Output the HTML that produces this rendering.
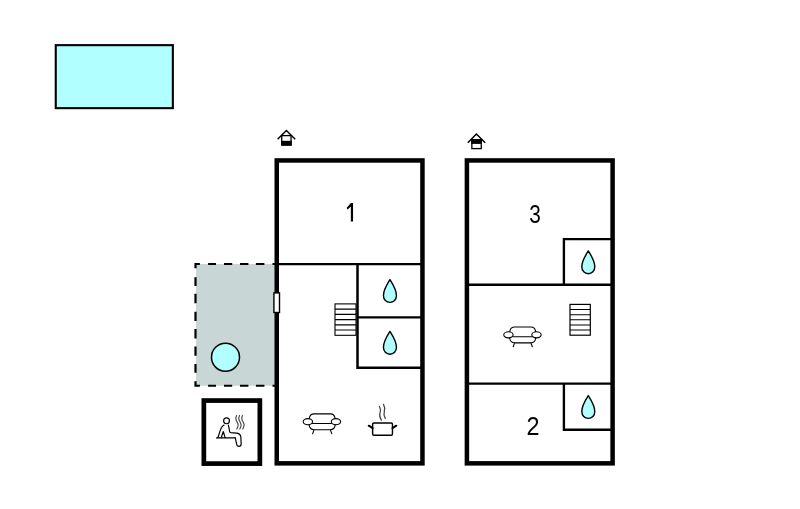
<!DOCTYPE html>
<html><head><meta charset="utf-8">
<style>
html,body{margin:0;padding:0;background:#fff;}
body{width:800px;height:509px;overflow:hidden;}
svg{display:block;will-change:transform;}
text{font-family:"Liberation Sans",sans-serif;}
</style></head>
<body>
<svg width="800" height="509" viewBox="0 0 800 509">
<defs>
<path id="drop" d="M0,0.8 C-2.4,4.6 -6.5,10.8 -6.5,16.6 C-6.5,20.8 -3.6,23.6 0,23.6 C3.6,23.6 6.5,20.8 6.5,16.6 C6.5,10.8 2.4,4.6 0,0.8 Z" fill="#b2ffff" stroke="#000" stroke-width="1.4" stroke-linejoin="round"/>
<g id="sofa" fill="none" stroke="#000" stroke-width="16" stroke-linecap="round">
<path d="M162,192 C168,150 192,125 232,125 L468,125 C508,125 532,150 538,192"/>
<ellipse cx="142" cy="238" rx="68" ry="44" fill="#fff"/>
<ellipse cx="550" cy="238" rx="68" ry="44" fill="#fff"/>
<path d="M210,265 L482,265"/>
<path d="M160,285 C165,325 195,355 235,355 L465,355 C505,355 535,325 540,285"/>
<path d="M228,365 L212,412 M472,365 L490,412"/>
</g>
</defs>
<!-- legend rect -->
<rect x="55.75" y="45.15" width="117.1" height="63" fill="#b2ffff" stroke="#000" stroke-width="2.1"/>

<!-- terrace (gray dashed) -->
<rect x="196" y="264" width="79" height="121.75" fill="#c8d6d6"/>
<path d="M194.4,263.0H199.9V265.0H194.4ZM194.4,384.75H199.9V386.75H194.4ZM208.1,263.0H216.0V265.0H208.1ZM208.1,384.75H216.0V386.75H208.1ZM224.0,263.0H232.2V265.0H224.0ZM224.0,384.75H232.2V386.75H224.0ZM240.0,263.0H248.4V265.0H240.0ZM240.0,384.75H248.4V386.75H240.0ZM255.9,263.0H264.4V265.0H255.9ZM255.9,384.75H264.4V386.75H255.9ZM272.5,263.0H275.5V265.0H272.5ZM272.5,384.75H275.5V386.75H272.5ZM194.4,263.0H196.6V268.3H194.4ZM194.4,277.2H196.6V286.0H194.4ZM194.4,293.8H196.6V303.2H194.4ZM194.4,311.8H196.6V320.9H194.4ZM194.4,329.1H196.6V338.6H194.4ZM194.4,346.6H196.6V355.8H194.4ZM194.4,364.0H196.6V372.7H194.4ZM194.4,381.3H196.6V386.75H194.4Z" fill="#000"/>
<circle cx="225.5" cy="357.2" r="14" fill="#b2ffff" stroke="#000" stroke-width="1.5"/>

<!-- building 1 -->
<g fill="none" stroke="#000">
<rect x="276.75" y="160.45" width="145.7" height="302.9" stroke-width="4.5"/>
<line x1="277" y1="264.1" x2="422" y2="264.1" stroke-width="2.35"/>
<polyline points="357.5,264.1 357.5,367.7 422,367.7" stroke-width="2.5"/>
<line x1="357.5" y1="317.3" x2="422" y2="317.3" stroke-width="2.2"/>
</g>
<!-- door -->
<rect x="273.9" y="292.9" width="5.6" height="19.6" fill="#fff" stroke="#000" stroke-width="1.4"/>
<!-- stairs 1 -->
<g fill="none" stroke="#000" stroke-width="1.1">
<rect x="335" y="303.9" width="21" height="31.4"/>
<path d="M335,309.13H356M335,314.36H356M335,319.6H356M335,324.83H356M335,330.06H356"/>
</g>
<use href="#drop" x="389.95" y="278.8"/>
<use href="#drop" x="389.95" y="330.6"/>
<g transform="translate(298.1,405.3) scale(0.06878)"><use href="#sofa"/></g>
<!-- pot -->
<g transform="translate(365,400) scale(0.07868)" fill="none" stroke="#000" stroke-linecap="round">
<rect x="97" y="292" width="252" height="156" rx="16" stroke-width="18" fill="#fff"/>
<path d="M48,327 L97,358 M398,327 L349,358" stroke-width="26"/>
<path d="M183,80 C200,110 200,140 190,170 C180,200 195,235 208,258" stroke-width="16" stroke="#444"/>
<path d="M235,55 C255,90 255,120 245,150 C235,180 245,210 258,233" stroke-width="16" stroke="#444"/>
</g>

<!-- building 2 -->
<g fill="none" stroke="#000">
<rect x="466.9" y="160.45" width="145.7" height="302.9" stroke-width="4.5"/>
<polyline points="612,239.1 563.9,239.1 563.9,284.7" stroke-width="2.35"/>
<line x1="467" y1="284.7" x2="612" y2="284.7" stroke-width="2.35"/>
<line x1="467" y1="383.6" x2="612" y2="383.6" stroke-width="2.35"/>
<polyline points="563.9,383.6 563.9,429.7 612,429.7" stroke-width="2.35"/>
</g>
<g fill="none" stroke="#000">
<rect x="570" y="304.4" width="20.3" height="30.8" stroke-width="1.2"/>
<path d="M570,309.53H590.3M570,314.67H590.3M570,319.8H590.3M570,324.93H590.3M570,330.07H590.3" stroke-width="1.05"/>
</g>
<use href="#drop" x="588.3" y="250.1"/>
<use href="#drop" x="588.3" y="394.8"/>
<g transform="translate(498.65,318.45) scale(0.06878)"><use href="#sofa"/></g>

<!-- sauna box -->
<rect x="203.85" y="400.55" width="56" height="63.05" fill="none" stroke="#000" stroke-width="4.7"/>
<g transform="translate(213,410) scale(0.07868)" fill="none" stroke="#000" stroke-width="15" stroke-linecap="round" stroke-linejoin="round">
<circle cx="172" cy="138" r="37"/>
<path d="M140,192 C112,200 100,235 90,265 L62,352"/>
<path d="M45,355 L285,355"/>
<path d="M195,192 C205,225 208,262 214,280 C220,288 235,291 258,291 L305,293 C338,300 352,318 354,345 L358,430 C358,452 345,463 330,463 C312,463 303,450 300,432 L284,358"/>
<path d="M130,276 L104,352 M132,276 L154,352"/>
</g>
<g fill="none" stroke="#4a4a4a" stroke-width="1.2" stroke-linecap="round">
<path d="M236.6,415.5 C235.8,416.8 235.5,418.5 236.2,420.2 C237.0,422 238.6,423.5 238.1,425.5 C237.8,427 237.3,428.2 236.8,429"/>
<path d="M239.55,415.5 C238.75,416.8 238.45,418.5 239.15,420.2 C239.95,422 241.55,423.5 241.05,425.5 C240.75,427 240.25,428.2 239.75,429"/>
<path d="M242.55,415.5 C241.75,416.8 241.45,418.5 242.15,420.2 C242.95,422 244.55,423.5 244.05,425.5 C243.75,427 243.25,428.2 242.75,429"/>
</g>

<!-- house icons -->
<g fill="none" stroke="#000">
<polyline points="277.6,139.2 286.4,130.5 295.2,139.2" stroke-width="1.5"/>
<rect x="281.75" y="135.6" width="9.3" height="9.4" stroke-width="1.3" fill="#fff"/>
<rect x="281.1" y="140.8" width="10.6" height="4.8" fill="#000" stroke="none"/>
<polyline points="467.8,142.7 476.4,134.0 485.2,142.7" stroke-width="1.5"/>
<rect x="471.85" y="139.75" width="9.4" height="8.85" stroke-width="1.3" fill="#fff"/>
<rect x="471.2" y="139.1" width="10.7" height="4.8" fill="#000" stroke="none"/>
</g>

<!-- numbers -->
<path d="M350.9,203.1 H353.05 V221.5 H350.85 V206.5 L347.7,209.6 L346.6,207.9 Z" fill="#000"/>
<text transform="translate(535,222.75) scale(0.80,1)" font-size="26" text-anchor="middle">3</text>
<text transform="translate(532.9,434.9) scale(0.9,1)" font-size="26" text-anchor="middle">2</text>
</svg>
</body></html>
